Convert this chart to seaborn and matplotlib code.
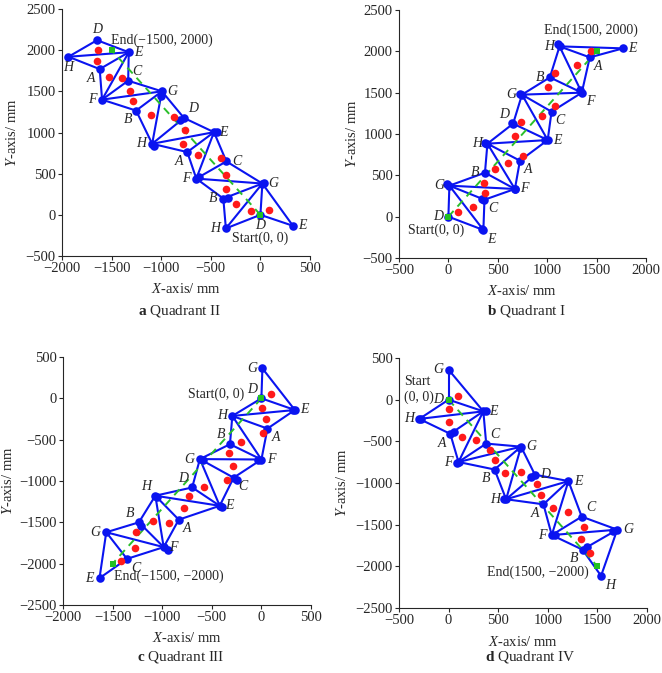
import matplotlib
matplotlib.use("Agg")
import matplotlib.pyplot as plt
from matplotlib.collections import LineCollection
import seaborn as sns
import pandas as pd

# ---- data (mm) ----
# Quadrant II
a_names = ["D", "E", "G", "H", "B", "F", "C", "A", "E", "H", "D", "G", "B", "F", "C", "A", "E", "H", "D"]
a_x = [0, 328, 20, -348, -374, -646, -343, -737, -468, -1091, -771, -993, -1253, -1596, -1333, -1620, -1327, -1935, -1647]
a_y = [0, -133, 380, -165, 198, 440, 649, 762, 1004, 863, 1177, 1500, 1266, 1399, 1629, 1770, 1975, 1920, 2121]
a_edges = [(2, 0), (0, 1), (0, 3), (2, 1), (2, 3), (3, 4), (4, 2), (4, 5), (5, 2), (5, 6), (6, 2),
           (6, 8), (5, 8), (5, 7), (7, 8), (7, 9), (9, 8), (9, 10), (10, 8), (10, 11), (9, 11),
           (9, 12), (12, 11), (12, 13), (13, 11), (13, 14), (14, 11), (14, 16), (13, 16), (13, 15),
           (15, 16), (15, 17), (17, 16), (17, 18), (18, 16)]
a_side = ["b", "r", "r", "l", "l", "l", "r", "bl", "r", "l", "tr", "r", "bl", "l", "tr", "bl", "r", "b", "t"]
a_dup_x = [35, -330, -620, -1075, -815, -997, -440]
a_dup_y = [390, 210, 460, 835, 1153, 1448, 1010]
a_red_x = [-1638, -1645, -1531, -1397, -1313, -1286, -1106, -871, -760, -784, -627, -402, -342, -342, -248, -90, 87]
a_red_y = [2004, 1863, 1677, 1661, 1508, 1379, 1218, 1194, 1032, 863, 730, 690, 488, 319, 129, 48, 56]

# Quadrant I
b_names = ["D", "E", "G", "C", "B", "F", "H", "A", "D", "E", "G", "C", "B", "F", "H", "A", "E"]
b_x = [0, 354, 10, 365, 370, 673, 395, 724, 655, 1005, 745, 1044, 1027, 1350, 1125, 1431, 1768]
b_y = [0, -161, 375, 205, 532, 335, 883, 677, 1125, 927, 1476, 1270, 1685, 1500, 2060, 1927, 2036]
b_edges = [(2, 0), (0, 1), (2, 1), (2, 3), (3, 1), (2, 4), (2, 5), (4, 5), (3, 5), (4, 6), (6, 5),
           (6, 7), (7, 5), (6, 8), (6, 9), (8, 9), (7, 9), (8, 10), (10, 9), (10, 11), (11, 9),
           (10, 12), (10, 13), (12, 13), (11, 13), (12, 14), (14, 13), (14, 15), (15, 13),
           (14, 16), (15, 16)]
b_side = ["l", "br", "l", "br", "l", "r", "l", "br", "tl", "r", "l", "br", "l", "br", "l", "br", "r"]
b_dup_x = [-17, 343, 673, 370, 640, 976, 724, 1330, 1111, 340]
b_dup_y = [391, 214, 335, 887, 1137, 927, 1480, 1532, 2089, -150]
b_red_x = [94, 253, 370, 364, 471, 606, 751, 673, 734, 949, 1084, 1010, 1077, 1303, 1448]
b_red_y = [60, 121, 290, 411, 577, 653, 738, 980, 1149, 1222, 1339, 1565, 1734, 1835, 2004]

# Quadrant III
c_names = ["G", "D", "E", "H", "A", "B", "F", "G", "C", "D", "E", "H", "A", "B", "F", "G", "C", "E"]
c_x = [10, 0, 337, -293, 61, -317, 0, -620, -280, -698, -420, -1069, -833, -1235, -985, -1564, -1355, -1632]
c_y = [362, 0, -141, -213, -366, -555, -740, -735, -960, -1078, -1300, -1178, -1468, -1500, -1800, -1620, -1942, -2175]
c_edges = [(0, 1), (0, 2), (1, 2), (1, 3), (3, 2), (3, 4), (4, 2), (3, 5), (3, 6), (4, 6), (5, 6),
           (5, 7), (7, 6), (7, 8), (8, 6), (7, 9), (7, 10), (8, 10), (9, 10), (9, 11), (11, 10),
           (11, 12), (12, 10), (11, 13), (11, 14), (12, 14), (13, 14), (13, 15), (15, 14),
           (15, 16), (16, 14), (15, 17), (16, 17)]
c_side = ["l", "tl", "r", "l", "br", "tl", "r", "l", "br", "tl", "r", "tl", "br", "tl", "r", "l", "br", "l"]
c_dup_x = [-35, 320, -590, -245, -400, -1050, -1210, -940]
c_dup_y = [-740, -145, -740, -985, -1315, -1190, -1545, -1840]
c_red_x = [101, 10, 44, 20, -202, -327, -287, -351, -580, -732, -782, -934, -1092, -1261, -1278, -1416]
c_red_y = [48, -113, -253, -422, -527, -667, -816, -989, -1078, -1186, -1327, -1508, -1480, -1620, -1809, -1970]

# Quadrant IV
d_names = ["G", "D", "E", "H", "A", "C", "F", "G", "B", "D", "E", "H", "A", "C", "F", "G", "B", "H"]
d_x = [0, 0, 350, -295, 17, 379, 100, 730, 463, 870, 1208, 580, 956, 1342, 1040, 1700, 1350, 1537]
d_y = [359, 0, -140, -231, -410, -527, -748, -564, -838, -900, -977, -1195, -1256, -1404, -1625, -1560, -1800, -2114]
d_edges = [(0, 1), (0, 2), (1, 2), (1, 3), (3, 2), (3, 4), (4, 2), (4, 6), (6, 2), (6, 5), (5, 2),
           (5, 7), (6, 7), (6, 8), (8, 7), (8, 11), (7, 11), (7, 9), (11, 9), (9, 10), (11, 10),
           (11, 12), (12, 10), (12, 14), (14, 10), (14, 13), (13, 10), (13, 15), (14, 15),
           (14, 16), (16, 15), (16, 17), (15, 17)]
d_side = ["l", "l", "r", "l", "bl", "tr", "l", "r", "bl", "r", "r", "l", "bl", "tr", "l", "r", "bl", "br"]
d_dup_x = [375, 55, 85, 715, 835, 560, 1070, 1660, 1400, -280]
d_dup_y = [-140, -390, -755, -575, -930, -1190, -1625, -1580, -1770, -230]
d_red_x = [94, 0, 0, 134, 275, 419, 463, 570, 731, 896, 929, 1057, 1201, 1369, 1336, 1426]
d_red_y = [48, -112, -271, -447, -487, -606, -726, -878, -870, -1017, -1149, -1296, -1348, -1524, -1675, -1843]

starts = [(0, 0), (0, 0), (0, 0), (0, 0)]
ends = [(-1500, 2000), (1500, 2000), (-1500, -2000), (1500, -2000)]
captions = [("a", "Quadrant II"), ("b", "Quadrant I"), ("c", "Quadrant III"), ("d", "Quadrant IV")]

# ---- style ----
sns.set_style("ticks")
plt.rcParams["font.family"] = ["Liberation Serif", "DejaVu Serif"]
plt.rcParams["mathtext.fontset"] = "custom"
plt.rcParams["mathtext.it"] = "Liberation Serif:italic"
plt.rcParams["mathtext.rm"] = "Liberation Serif"
plt.rcParams["mathtext.bf"] = "Liberation Serif:bold"
plt.rcParams["axes.unicode_minus"] = True

BLUE = "#0a14f0"
offs = {"l": (-4, 0, "right", "center"), "r": (4, 0, "left", "center"),
        "t": (0, 3, "center", "bottom"), "b": (0, -3, "center", "top"),
        "bl": (-3, -2, "right", "top"), "br": (3, -2, "left", "top"),
        "tl": (-3, 2, "right", "bottom"), "tr": (3, 2, "left", "bottom")}

fig = plt.figure(figsize=(6.62, 6.73), dpi=100)
boxes = [(62 / 662, 1 - 256 / 673, 248 / 662, 247 / 673),
         (399 / 662, 1 - 258 / 673, 247 / 662, 248 / 673),
         (63 / 662, 1 - 605 / 673, 248 / 662, 248 / 673),
         (399 / 662, 1 - 608 / 673, 248 / 662, 250 / 673)]
xlims = [(-2000, 500), (-500, 2000), (-2000, 500), (-500, 2000)]
ylims = [(-500, 2500), (-500, 2500), (-2500, 500), (-2500, 500)]
ylab_x = [-0.20, -0.19, -0.22, -0.23]
cap_pos = [(180, 311), (527, 311), (181, 657), (530, 657)]

panels = [(a_names, a_x, a_y, a_edges, a_side, a_dup_x, a_dup_y, a_red_x, a_red_y),
          (b_names, b_x, b_y, b_edges, b_side, b_dup_x, b_dup_y, b_red_x, b_red_y),
          (c_names, c_x, c_y, c_edges, c_side, c_dup_x, c_dup_y, c_red_x, c_red_y),
          (d_names, d_x, d_y, d_edges, d_side, d_dup_x, d_dup_y, d_red_x, d_red_y)]

for i, (names, xs, ys, edges, side, dx, dy, rx, ry) in enumerate(panels):
    ax = fig.add_axes(boxes[i])
    segs = [[(xs[p], ys[p]), (xs[q], ys[q])] for p, q in edges]
    ax.add_collection(LineCollection(segs, colors=BLUE, linewidths=1.5, zorder=2))

    path = pd.DataFrame({"x": [starts[i][0], ends[i][0]], "y": [starts[i][1], ends[i][1]]})
    ax.plot(path["x"], path["y"], color="#2bbf2b", lw=1.4, dashes=(4, 3), zorder=3)

    nodes = pd.DataFrame({"x": list(xs) + list(dx), "y": list(ys) + list(dy)})
    sns.scatterplot(data=nodes, x="x", y="y", ax=ax, color=BLUE, s=38, linewidth=0, zorder=4)
    red = pd.DataFrame({"x": rx, "y": ry})
    sns.scatterplot(data=red, x="x", y="y", ax=ax, color="#ff1a1a", s=30, linewidth=0, zorder=5)
    sns.scatterplot(data=path, x="x", y="y", ax=ax, color="#22c022", marker="s", s=22,
                    linewidth=0, zorder=6)

    for n, x, y, sd in zip(names, xs, ys, side):
        ox, oy, ha, va = offs[sd]
        ax.annotate(n, (x, y), xytext=(ox, oy), textcoords="offset points", ha=ha, va=va,
                    fontsize=10, style="italic", zorder=7)

    ax.set_xlim(*xlims[i])
    ax.set_ylim(*ylims[i])
    ax.set_xticks(range(xlims[i][0], xlims[i][1] + 1, 500))
    ax.set_yticks(range(ylims[i][0], ylims[i][1] + 1, 500))
    ax.tick_params(labelsize=10.5, length=3, width=0.8, direction="out", pad=1.5)
    for s in ["top", "right"]:
        ax.spines[s].set_visible(False)
    for s in ["left", "bottom"]:
        ax.spines[s].set_linewidth(0.8)
    ax.set_xlabel("$X$-axis/ mm", fontsize=10.5, va="center")
    ax.set_ylabel("$Y$-axis/ mm", fontsize=10.5, va="center")
    ax.xaxis.set_label_coords(0.5, -0.135)
    ax.yaxis.set_label_coords(ylab_x[i], 0.5)
    letter, cap = captions[i]
    fig.text(cap_pos[i][0] / 662, 1 - cap_pos[i][1] / 673, r"$\mathbf{" + letter + "}$ " + cap,
             ha="center", va="center", fontsize=11)

# start / end annotations
txt = fig.axes
txt[0].text(-1510, 2120, "End(\u22121500, 2000)", fontsize=10, va="center")
txt[0].text(-290, -280, "Start(0, 0)", fontsize=10, va="center")
txt[1].text(966, 2250, "End(1500, 2000)", fontsize=10, va="center")
txt[1].text(-411, -161, "Start(0, 0)", fontsize=10, va="center")
txt[2].text(-738, 48, "Start(0, 0)", fontsize=10, va="center")
txt[2].text(-1490, -2151, "End(\u22121500, \u22122000)", fontsize=10, va="center")
txt[3].text(-445, 120, "Start\n(0, 0)", fontsize=10, va="center", linespacing=1.3)
txt[3].text(386, -2066, "End(1500, \u22122000)", fontsize=10, va="center")

fig.savefig("out.png", dpi=100)
